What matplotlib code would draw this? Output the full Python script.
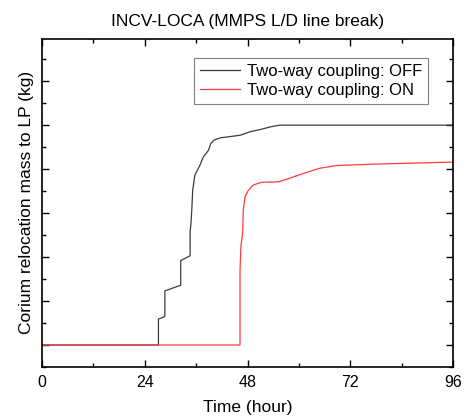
import matplotlib
matplotlib.use("Agg")
import matplotlib.pyplot as plt
from matplotlib.ticker import MultipleLocator

plt.rcParams['font.family'] = ['Liberation Sans', 'DejaVu Sans']

# digitised curves (time in hours, mass in arbitrary units - axis has no labels)
off_t = [0, 27.2, 27.2, 28.5, 28.7, 28.7, 32.4, 32.4, 34.6, 34.6, 34.8, 35.0, 35.2,
         35.7, 36.9, 37.7, 38.9, 39.4, 40.2, 41.6, 46.3, 48.6, 51.0, 53.3, 55.6, 96]
off_y = [0, 0, 0.59, 0.64, 0.66, 1.23, 1.36, 1.92, 2.03, 2.58, 2.77, 3.1, 3.52,
         3.86, 4.09, 4.28, 4.43, 4.58, 4.66, 4.71, 4.77, 4.85, 4.90, 4.96, 5.0, 5.0]

on_t = [0, 46.25, 46.25, 46.48, 46.87, 47.02, 47.42, 48.2, 49.36, 51.3, 55.2,
        57.2, 61.0, 64.9, 68.8, 76.6, 84.4, 96]
on_y = [0, 0, 1.69, 2.27, 2.54, 3.07, 3.37, 3.52, 3.64, 3.70, 3.71,
        3.77, 3.90, 4.02, 4.08, 4.11, 4.13, 4.16]

fig = plt.figure(figsize=(4.65, 4.16), dpi=100)
ax = fig.add_axes([42 / 465, 49 / 416, 411 / 465, 328.5 / 416])

ax.plot(off_t, off_y, color='#3c3c3c', lw=0.9, label='Two-way coupling: OFF')
ax.plot(on_t, on_y, color='#ff3b3b', lw=0.9, label='Two-way coupling: ON')

ax.set_xlim(0, 96)
ax.set_ylim(-0.5, 6.97)
ax.xaxis.set_major_locator(MultipleLocator(24))
ax.xaxis.set_minor_locator(MultipleLocator(12))
ax.yaxis.set_major_locator(MultipleLocator(1))
ax.yaxis.set_minor_locator(MultipleLocator(0.5))
ax.tick_params(which='both', direction='in', top=True, right=True, labelsize=11.5, width=1)
ax.tick_params(which='major', length=5, pad=6)
ax.tick_params(which='minor', length=3)
ax.set_yticklabels([])
for s in ax.spines.values():
    s.set_linewidth(1.2)

ax.set_title('INCV-LOCA (MMPS L/D line break)', fontsize=12.5, pad=9)
ax.set_xlabel('Time (hour)', fontsize=12.5, labelpad=7)
ax.set_ylabel('Corium relocation mass to LP (kg)', fontsize=12.5, labelpad=0)

leg = ax.legend(loc='upper right', bbox_to_anchor=(0.939, 0.9416), fontsize=12,
                fancybox=False, framealpha=1, edgecolor='#808080',
                handlelength=2.4, borderpad=0.35, labelspacing=0.25, handletextpad=0.4,
                borderaxespad=0)
leg.get_frame().set_linewidth(0.8)

fig.savefig('out.png', dpi=100)
